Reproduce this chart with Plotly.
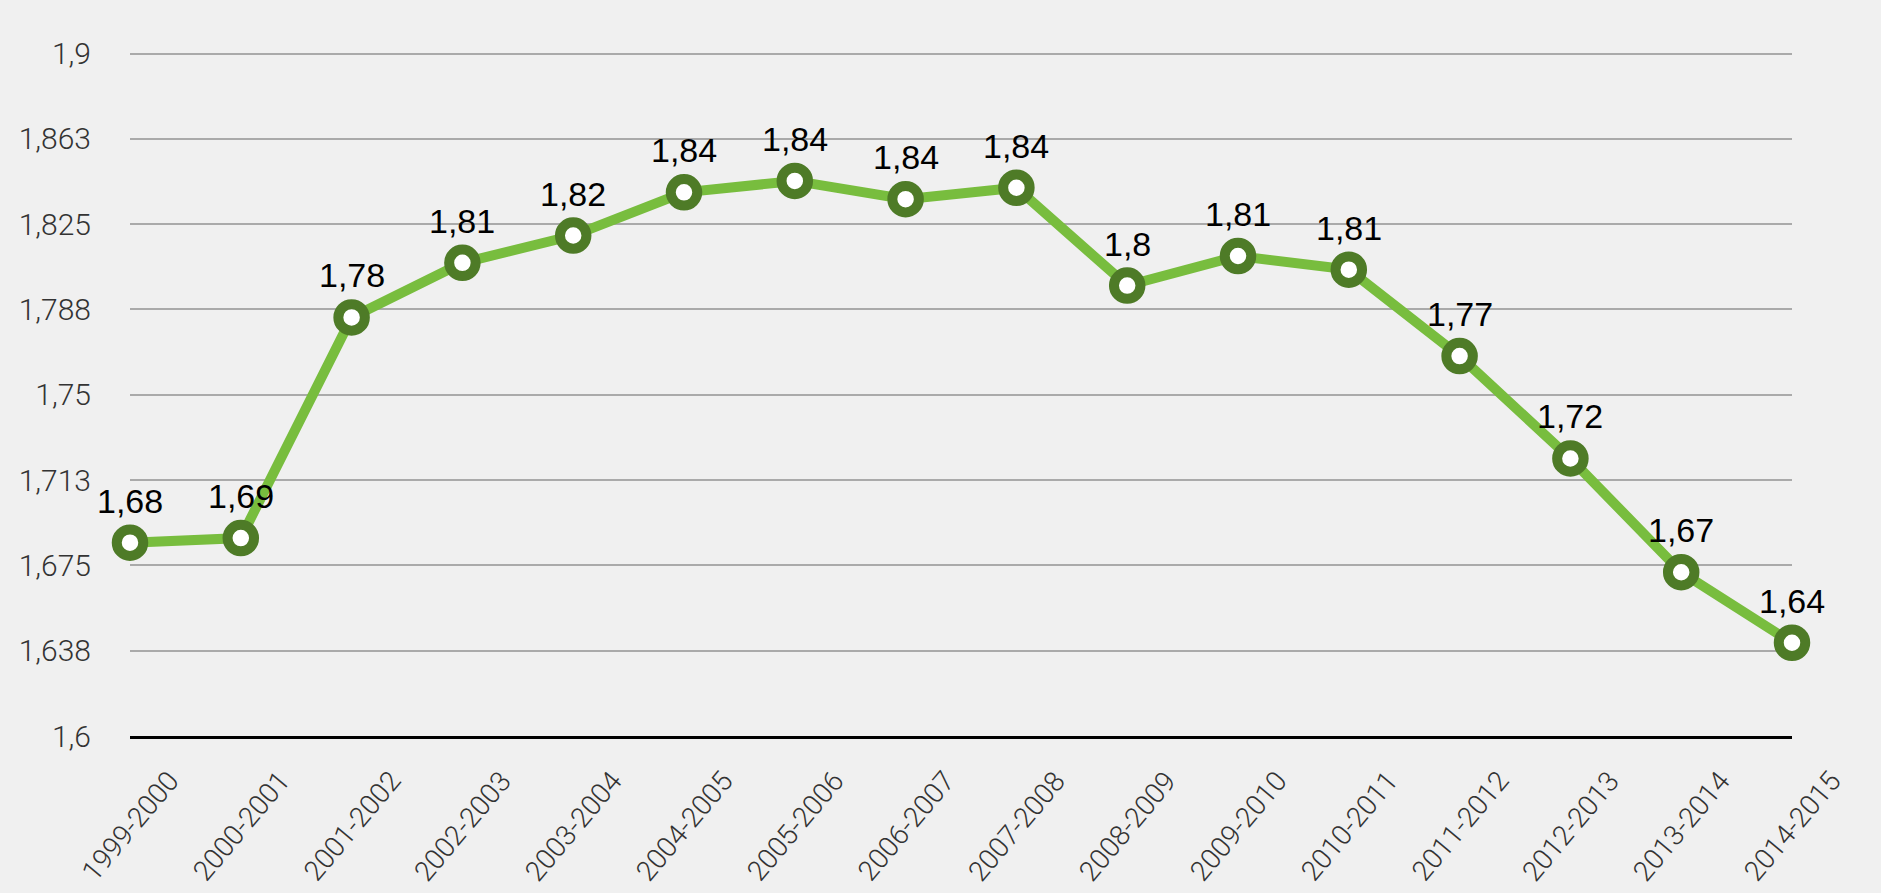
import plotly.graph_objects as go

categories = ["1999-2000", "2000-2001", "2001-2002", "2002-2003", "2003-2004",
              "2004-2005", "2005-2006", "2006-2007", "2007-2008", "2008-2009",
              "2009-2010", "2010-2011", "2011-2012", "2012-2013", "2013-2014",
              "2014-2015"]
values = [1.685, 1.687, 1.784, 1.808, 1.820, 1.839, 1.844, 1.836, 1.841,
          1.798, 1.811, 1.805, 1.767, 1.722, 1.672, 1.641]
point_labels = ["1,68", "1,69", "1,78", "1,81", "1,82", "1,84", "1,84", "1,84",
                "1,84", "1,8", "1,81", "1,81", "1,77", "1,72", "1,67", "1,64"]
y_tickvals = [1.6, 1.6375, 1.675, 1.7125, 1.75, 1.7875, 1.825, 1.8625, 1.9]
y_ticktext = ["1,6", "1,638", "1,675", "1,713", "1,75", "1,788", "1,825", "1,863", "1,9"]

fig = go.Figure()
fig.add_trace(go.Scatter(
    x=categories, y=values,
    mode="lines+markers",
    line=dict(color="#78bd3e", width=10),
    marker=dict(size=26.5, color="#ffffff", line=dict(color="#4e7b27", width=10)),
    cliponaxis=False,
    showlegend=False,
    hoverinfo="skip",
))

annotations = []
for c, v, t in zip(categories, values, point_labels):
    annotations.append(dict(
        x=c, y=v, xref="x", yref="y", text=t, showarrow=False,
        xanchor="center", yanchor="bottom", yshift=21,
        font=dict(family="Liberation Sans, Arial, sans-serif", size=34, color="#000000"),
    ))
for c in categories:
    annotations.append(dict(
        x=c, y=0, xref="x", yref="paper", text=c, showarrow=False,
        xanchor="center", yanchor="middle", yshift=-90, textangle=-50,
        font=dict(family="Roboto", size=28, weight=300, color="#333333"),
    ))

fig.update_layout(
    width=1881, height=893,
    margin=dict(l=130, r=89, t=49, b=157),
    paper_bgcolor="#f0f0f0", plot_bgcolor="#f0f0f0",
    font=dict(family="Roboto, Liberation Sans, sans-serif", color="#333333"),
    annotations=annotations,
    xaxis=dict(
        type="category",
        range=[0, len(categories) - 1],
        showgrid=False,
        showline=True, linecolor="#000000", linewidth=3,
        showticklabels=False,
        ticks="", automargin=False,
        zeroline=False,
    ),
    yaxis=dict(
        range=[1.6, 1.902],
        tickvals=y_tickvals, ticktext=y_ticktext,
        showgrid=True, gridcolor="#aaaaaa", gridwidth=2,
        tickfont=dict(size=30, family="Roboto", weight=300, color="#333333"),
        ticks="", ticklabelstandoff=38, automargin=False,
        zeroline=False, showline=False,
    ),
)

fig.write_html(
    "out.html",
    config={"displayModeBar": False},
    post_script="document.body.style.margin='0';document.body.style.background='#f0f0f0';",
)
